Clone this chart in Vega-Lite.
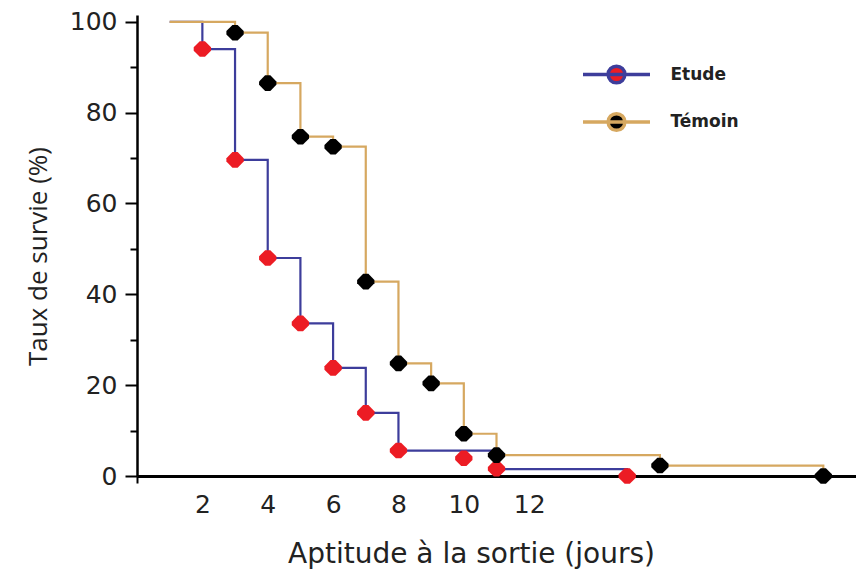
{
  "$schema": "https://vega.github.io/schema/vega-lite/v6.json",
  "width": 719,
  "height": 461,
  "autosize": {"type": "none"},
  "padding": {"left": 137, "top": 15, "right": 0, "bottom": 98},
  "background": "white",
  "config": {
    "view": {"stroke": null},
    "font": "DejaVu Sans",
    "legend": {
      "title": null,
      "orient": "none",
      "legendX": 461,
      "legendY": 41,
      "padding": 0,
      "symbolType": "M-2,0L2,0M-0.5,0A0.5,0.5,0,1,1,0.5,0A0.5,0.5,0,1,1,-0.5,0Z",
      "symbolSize": 1122,
      "symbolStrokeWidth": 3.5,
      "symbolOpacity": 1,
      "labelOffset": 35.5,
      "labelFontSize": 17,
      "labelFontWeight": "bold",
      "labelColor": "#222",
      "rowPadding": 13.5
    }
  },
  "datasets": {
    "courbes": [
      {"jour": 1, "survie": 100, "groupe": "Etude"},
      {"jour": 2, "survie": 94, "groupe": "Etude"},
      {"jour": 3, "survie": 69.6, "groupe": "Etude"},
      {"jour": 4, "survie": 48, "groupe": "Etude"},
      {"jour": 5, "survie": 33.6, "groupe": "Etude"},
      {"jour": 6, "survie": 23.8, "groupe": "Etude"},
      {"jour": 7, "survie": 13.9, "groupe": "Etude"},
      {"jour": 8, "survie": 5.6, "groupe": "Etude"},
      {"jour": 11, "survie": 1.5, "groupe": "Etude"},
      {"jour": 15, "survie": 0, "groupe": "Etude"},
      {"jour": 1, "survie": 100, "groupe": "Témoin"},
      {"jour": 3, "survie": 97.6, "groupe": "Témoin"},
      {"jour": 4, "survie": 86.5, "groupe": "Témoin"},
      {"jour": 5, "survie": 74.7, "groupe": "Témoin"},
      {"jour": 6, "survie": 72.5, "groupe": "Témoin"},
      {"jour": 7, "survie": 42.8, "groupe": "Témoin"},
      {"jour": 8, "survie": 24.8, "groupe": "Témoin"},
      {"jour": 9, "survie": 20.4, "groupe": "Témoin"},
      {"jour": 10, "survie": 9.3, "groupe": "Témoin"},
      {"jour": 11, "survie": 4.6, "groupe": "Témoin"},
      {"jour": 16, "survie": 2.3, "groupe": "Témoin"},
      {"jour": 21, "survie": 0, "groupe": "Témoin"}
    ],
    "points": [
      {"jour": 2, "survie": 94, "groupe": "Etude"},
      {"jour": 3, "survie": 69.6, "groupe": "Etude"},
      {"jour": 4, "survie": 48, "groupe": "Etude"},
      {"jour": 5, "survie": 33.6, "groupe": "Etude"},
      {"jour": 6, "survie": 23.8, "groupe": "Etude"},
      {"jour": 7, "survie": 13.9, "groupe": "Etude"},
      {"jour": 8, "survie": 5.6, "groupe": "Etude"},
      {"jour": 10, "survie": 3.9, "groupe": "Etude"},
      {"jour": 11, "survie": 1.6, "groupe": "Etude"},
      {"jour": 15, "survie": 0, "groupe": "Etude"},
      {"jour": 3, "survie": 97.6, "groupe": "Témoin"},
      {"jour": 4, "survie": 86.5, "groupe": "Témoin"},
      {"jour": 5, "survie": 74.7, "groupe": "Témoin"},
      {"jour": 6, "survie": 72.5, "groupe": "Témoin"},
      {"jour": 7, "survie": 42.8, "groupe": "Témoin"},
      {"jour": 8, "survie": 24.8, "groupe": "Témoin"},
      {"jour": 9, "survie": 20.4, "groupe": "Témoin"},
      {"jour": 10, "survie": 9.3, "groupe": "Témoin"},
      {"jour": 11, "survie": 4.6, "groupe": "Témoin"},
      {"jour": 16, "survie": 2.3, "groupe": "Témoin"},
      {"jour": 21, "survie": 0, "groupe": "Témoin"}
    ]
  },
  "encoding": {
    "x": {
      "field": "jour",
      "type": "quantitative",
      "scale": {"domain": [0, 22], "nice": false, "zero": false},
      "axis": {
        "title": "Aptitude à la sortie (jours)",
        "values": [0, 2, 4, 6, 8, 10, 12],
        "labelExpr": "datum.value === 0 ? '' : datum.label",
        "grid": false,
        "domainColor": "#000",
        "domainWidth": 3,
        "tickColor": "#000",
        "tickWidth": 2,
        "tickSize": {"condition": {"test": "datum.value === 0", "value": 7}, "value": 0},
        "labelFontSize": 25,
        "labelColor": "#222",
        "labelPadding": 16,
        "titleFontSize": 28,
        "titleFontWeight": "normal",
        "titleColor": "#222",
        "titleX": 334,
        "titleY": 86,
        "titleBaseline": "alphabetic"
      }
    },
    "y": {
      "field": "survie",
      "type": "quantitative",
      "scale": {"domain": [0, 101.5], "nice": false},
      "axis": {
        "title": "Taux de survie (%)",
        "titleFont": "Open Sans",
        "values": [0, 10, 20, 30, 40, 50, 60, 70, 80, 90, 100],
        "labelExpr": "datum.value % 20 === 0 ? datum.label : ''",
        "grid": false,
        "domainColor": "#000",
        "domainWidth": 2.5,
        "tickColor": "#000",
        "tickWidth": 2,
        "tickSize": {"condition": {"test": "datum.value % 20 === 0", "value": 12}, "value": 7},
        "labelFontSize": 25,
        "labelColor": "#222",
        "labelPadding": 8,
        "titleFontSize": 26,
        "titleFontWeight": "normal",
        "titleColor": "#222",
        "titleX": -91,
        "titleY": 241,
        "titleAngle": -90,
        "titleBaseline": "alphabetic"
      }
    }
  },
  "layer": [
    {
      "data": {"name": "courbes"},
      "mark": {"type": "line", "interpolate": "step-after", "strokeWidth": 2.2},
      "encoding": {
        "stroke": {
          "field": "groupe",
          "type": "nominal",
          "scale": {"domain": ["Etude", "Témoin"], "range": ["#3d3d9b", "#d6a860"]},
          "legend": {
            "encode": {
              "symbols": {
                "update": {
                  "stroke": {"signal": "datum.value === 'Etude' ? '#2e75b6' : '#f5b800'"},
                  "strokeWidth": {"value": 3.5}
                }
              }
            }
          }
        }
      }
    },
    {
      "data": {"name": "points"},
      "mark": {
        "type": "point",
        "shape": "M-0.3,-0.9L0.3,-0.9L1,-0.2L1,0.2L0.3,0.9L-0.3,0.9L-1,0.2L-1,-0.2Z",
        "filled": true,
        "size": 300,
        "strokeWidth": 0,
        "opacity": 1
      },
      "encoding": {
        "fill": {
          "field": "groupe",
          "type": "nominal",
          "scale": {"domain": ["Etude", "Témoin"], "range": ["#ec1c24", "#000000"]},
          "legend": {
            "encode": {
              "symbols": {
                "update": {
                  "stroke": {"signal": "datum.value === 'Etude' ? '#2e75b6' : '#f5b800'"},
                  "strokeWidth": {"value": 3.5}
                }
              }
            }
          }
        }
      }
    }
  ]
}
